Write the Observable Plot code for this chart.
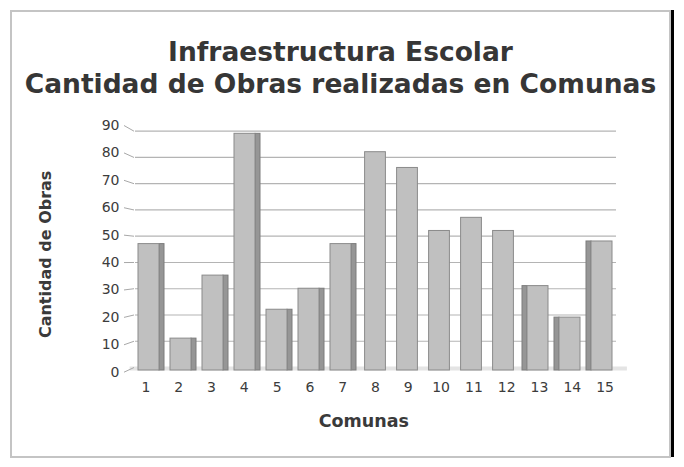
<!DOCTYPE html>
<html>
<head>
<meta charset="utf-8">
<script src="https://cdn.jsdelivr.net/npm/d3@7"></script>
<script src="https://cdn.jsdelivr.net/npm/@observablehq/plot@0.6"></script>
<style>
  html, body { margin: 0; padding: 0; background: #fff; }
  #wrap { position: relative; width: 684px; height: 467px; overflow: hidden; font-family: "DejaVu Sans", sans-serif; }
  #frame { position: absolute; left: 10px; top: 10px; width: 657px; height: 444px; border: 2px solid #c4c4c4; box-sizing: content-box; }
  #edge { position: absolute; left: 671px; top: 10px; width: 2.5px; height: 447px; background: #000; }
  #title { position: absolute; left: 10px; width: 661px; top: 36px; text-align: center; font-weight: bold; font-size: 26.5px; line-height: 31.5px; color: #363636; }
  #chart { position: absolute; left: 0; top: 100px; }
</style>
</head>
<body>
<div id="wrap">
  <div id="frame"></div>
  <div id="edge"></div>
  <div id="title">Infraestructura Escolar<br>Cantidad de Obras realizadas en Comunas</div>
  <div id="chart"></div>
</div>
<script>
const comunas = ["1","2","3","4","5","6","7","8","9","10","11","12","13","14","15"];
const obras = [47, 11, 35, 89, 22, 30, 47, 82, 76, 52, 57, 52, 31, 19, 48];
const yTicks = [0, 10, 20, 30, 40, 50, 60, 70, 80, 90];
const sideFace = ["right","right","right","right","right","right","right","none","none","none","none","none","left","left","left"];
const xTitle = "Comunas";
const yTitle = "Cantidad de Obras";

const data = comunas.map((c, i) => ({comuna: c, obras: obras[i], side: sideFace[i]}));

const frontFill = "#c0c0c0", frontStroke = "#8a8a8a";
const sideFill = "#969696", sideStroke = "#7c7c7c";

// perspective offset of the y tick labels relative to their gridline (px)
const yLabelShift = v => 4.7 - 10.4 * v / 90;

const xTickLabels = comunas.map((c, i) =>
  Plot.text([c], {x: d => d, frameAnchor: "bottom", lineAnchor: "middle", dy: 20, dx: (i - 7) * 0.8, fontSize: 14, fill: "#3c3c3c"})
);
const yTickLabels = yTicks.map(v =>
  Plot.text([v], {y: d => d, text: d => String(d), frameAnchor: "left", textAnchor: "end", lineAnchor: "middle", dx: -10.6, dy: yLabelShift(v), fontSize: 14, fill: "#3c3c3c"})
);

const chart = Plot.plot({
  width: 684,
  height: 360,
  marginLeft: 129.6,
  marginRight: 63.1,
  marginTop: 30.7,
  marginBottom: 93,
  style: {fontFamily: "DejaVu Sans", fontSize: "14px", color: "#3c3c3c", background: "transparent", overflow: "visible"},
  x: {type: "band", domain: comunas, paddingInner: 0.2, paddingOuter: 0.1, align: 0.5, axis: null},
  y: {domain: [0, 90], label: null},
  marks: [
    Plot.ruleY([0], {stroke: "#e4e4e4", strokeWidth: 4, dy: 1, insetLeft: 0, insetRight: -6}),
    Plot.ruleY(yTicks.slice(1), {stroke: "#b4b4b4", strokeWidth: 1.2, insetLeft: 5.4, insetRight: 4.9}),
    Plot.axisY({ticks: yTicks, tickSize: 10, tickPadding: 5, dx: 4.4, stroke: "#a8a8a8", label: null, tickFormat: () => ""}),
    ...yTickLabels,
    // bars with side face on the right
    Plot.barY(data, {filter: d => d.side === "right", x: "comuna", y: "obras", insetLeft: 21, insetBottom: -3, fill: sideFill, stroke: sideStroke, strokeWidth: 1}),
    Plot.barY(data, {filter: d => d.side === "right", x: "comuna", y: "obras", insetRight: 5, insetBottom: -3, fill: frontFill, stroke: frontStroke, strokeWidth: 1}),
    // bars seen from the front
    Plot.barY(data, {filter: d => d.side === "none", x: "comuna", y: "obras", insetLeft: 2.6, insetRight: 2.6, insetBottom: -3, fill: frontFill, stroke: frontStroke, strokeWidth: 1}),
    // bars with side face on the left
    Plot.barY(data, {filter: d => d.side === "left", x: "comuna", y: "obras", insetRight: 21, insetBottom: -3, fill: sideFill, stroke: sideStroke, strokeWidth: 1}),
    Plot.barY(data, {filter: d => d.side === "left", x: "comuna", y: "obras", insetLeft: 5, insetBottom: -3, fill: frontFill, stroke: frontStroke, strokeWidth: 1}),
    ...xTickLabels,
    Plot.text([xTitle], {frameAnchor: "bottom", lineAnchor: "middle", dy: 54, dx: -12, fontSize: 17.5, fontWeight: "bold", fill: "#3a3a3a"}),
    Plot.text([yTitle], {frameAnchor: "left", textAnchor: "middle", lineAnchor: "middle", dx: -84.6, dy: 5, rotate: -90, fontSize: 16, fontWeight: "bold", fill: "#3a3a3a"})
  ]
});

// slant the y-axis ticks from each label to its gridline, as in the 3D reference
d3.select(chart).selectAll('g[aria-label="y-axis tick"] path').each(function(_, i) {
  const v = yTicks[i];
  if (v !== undefined) this.setAttribute("d", `M0,0L-10,${yLabelShift(v)}`);
});

document.getElementById("chart").appendChild(chart);
</script>
</body>
</html>
